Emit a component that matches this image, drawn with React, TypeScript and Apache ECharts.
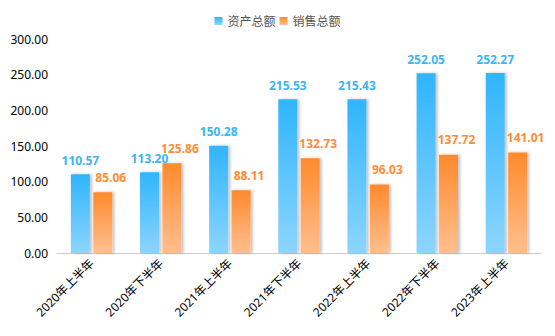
import React, { useEffect, useRef } from "react";
import * as echarts from "echarts";

const categories = [
  "2020年上半年",
  "2020年下半年",
  "2021年上半年",
  "2021年下半年",
  "2022年上半年",
  "2022年下半年",
  "2023年上半年",
];
const assetTotal = [110.57, 113.2, 150.28, 215.53, 215.43, 252.05, 252.27];
const salesTotal = [85.06, 125.86, 88.11, 132.73, 96.03, 137.72, 141.01];
const seriesNames = ["资产总额", "销售总额"];

const FONT = "'Noto Sans', 'Noto Sans CJK SC', sans-serif";

function grad(top: string, bottom: string) {
  return new echarts.graphic.LinearGradient(0, 0, 0, 1, [
    { offset: 0, color: top },
    { offset: 1, color: bottom },
  ]);
}

export default function App() {
  const ref = useRef<HTMLDivElement>(null);
  useEffect(() => {
    if (!ref.current) return;
    const chart = echarts.init(ref.current, undefined, { renderer: "svg" });
    const shadow = {
      shadowColor: "rgba(0,0,0,0.25)",
      shadowBlur: 3,
      shadowOffsetX: 2,
      shadowOffsetY: 0,
    };
    chart.setOption({
      animation: false,
      textStyle: { fontFamily: FONT },
      legend: {
        top: 10,
        left: "center",
        icon: "rect",
        itemWidth: 8,
        itemHeight: 8,
        itemGap: 4,
        textStyle: { color: "#555", fontSize: 12, fontFamily: FONT },
        data: seriesNames,
      },
      grid: { left: 57, right: 14, top: 39, bottom: 83, containLabel: false },
      xAxis: {
        type: "category",
        data: categories,
        axisLine: { show: true, lineStyle: { color: "#ccc" } },
        axisTick: { show: false },
        axisLabel: {
          rotate: 45,
          color: "#000",
          fontSize: 12,
          margin: 8,
          interval: 0,
          fontFamily: FONT,
        },
      },
      yAxis: {
        type: "value",
        min: 0,
        max: 300,
        interval: 50,
        splitLine: { show: false },
        axisLine: { show: false },
        axisTick: { show: false },
        axisLabel: {
          color: "#000",
          fontSize: 12,
          margin: 9,
          fontFamily: FONT,
          formatter: (v: number) => v.toFixed(2),
        },
      },
      series: [
        {
          name: seriesNames[0],
          type: "bar",
          data: assetTotal,
          barWidth: 19,
          barGap: "18%",
          itemStyle: { color: grad("#2fb5fc", "#8dd5fd"), ...shadow },
          label: {
            show: true,
            position: "top",
            distance: 8,
            color: "#3ab5f5",
            fontWeight: "bold",
            fontSize: 12,
            fontFamily: FONT,
            formatter: (p: any) => Number(p.value).toFixed(2),
          },
        },
        {
          name: seriesNames[1],
          type: "bar",
          data: salesTotal,
          barWidth: 19,
          itemStyle: { color: grad("#ff8a2c", "#ffbf8f"), ...shadow },
          label: {
            show: true,
            position: "top",
            distance: 9,
            offset: [8, 0],
            color: "#ff8c35",
            fontWeight: "bold",
            fontSize: 12,
            fontFamily: FONT,
            formatter: (p: any) => Number(p.value).toFixed(2),
          },
        },
      ],
    });
    return () => chart.dispose();
  }, []);
  return <div ref={ref} style={{ width: 555, height: 336, margin: -8 }} />;
}
